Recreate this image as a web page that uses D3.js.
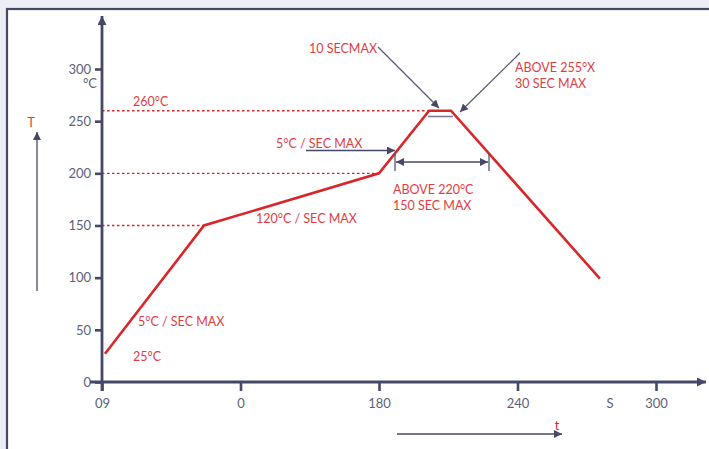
<!DOCTYPE html>
<html><head><meta charset="utf-8">
<script src="https://cdn.jsdelivr.net/npm/d3@7"></script>
<style>
html,body{margin:0;padding:0;background:#eceef3;}
svg{display:block;}
</style></head>
<body>
<svg id="chart" width="709" height="449"></svg>
<script>
// ---- data ----
const xTickValues = [60, 120, 180, 240, 300];
const xTickLabels = ["09", "0", "180", "240", "300"];
const yTickValues = [0, 50, 100, 150, 200, 250, 300];
const profileTime = [61.3, 104.2, 180, 201.7, 211.2, 275.7];
const profileTemp = [27, 150, 200, 260, 260, 99];
const refTemps = [150, 200, 260];
const refEndTimes = [104.2, 180, 201.7];

const NAVY = "#454866", LABEL = "#5c5f7a", RED = "#d9262b", TXT = "#df3d43";
const FONT = "Lato, 'Open Sans', sans-serif";

const svg = d3.select("#chart");
// frame
svg.append("rect").attr("x", 7).attr("y", 9).attr("width", 720).attr("height", 460)
  .attr("fill", "#ffffff").attr("stroke", NAVY).attr("stroke-width", 2.2);

const x = d3.scaleLinear().domain([60, 300]).range([102, 656]);
const y = d3.scaleLinear().domain([0, 300]).range([382, 69]);

const defs = svg.append("defs");
function marker(id, color, w, h) {
  defs.append("marker").attr("id", id).attr("viewBox", "0 0 10 10")
    .attr("refX", 10).attr("refY", 5).attr("markerUnits", "userSpaceOnUse")
    .attr("markerWidth", w).attr("markerHeight", h).attr("orient", "auto-start-reverse")
    .append("path").attr("d", "M0,0 L10,5 L0,10 Z").attr("fill", color);
}
marker("big", NAVY, 20, 9);
marker("small", NAVY, 11, 8);

// reference dashed lines
svg.append("g").selectAll("line").data(refTemps).join("line")
  .attr("x1", x(60)).attr("x2", (d, i) => x(refEndTimes[i]))
  .attr("y1", d => y(d)).attr("y2", d => y(d))
  .attr("stroke", RED).attr("stroke-width", 1.3).attr("stroke-dasharray", "2.5,2.5");

// axes
const yAxis = d3.axisLeft(y).tickValues(yTickValues).tickSize(7).tickPadding(4);
const gy = svg.append("g").attr("transform", `translate(${x(60)},0)`).call(yAxis);
gy.select(".domain").remove();
gy.selectAll(".tick line").attr("stroke", NAVY).attr("stroke-width", 2.6);
gy.selectAll(".tick text").attr("fill", LABEL).style("font", `13px ${FONT}`);

const xAxis = d3.axisBottom(x).tickValues(xTickValues).tickFormat((d, i) => xTickLabels[i]).tickSize(9).tickPadding(8);
const gx = svg.append("g").attr("transform", `translate(0,${y(0)})`).call(xAxis);
gx.select(".domain").remove();
gx.selectAll(".tick line").attr("stroke", NAVY).attr("stroke-width", 2.6);
gx.selectAll(".tick text").attr("fill", LABEL).style("font", `13px ${FONT}`);

// axis lines with arrows
svg.append("line").attr("x1", x(60)).attr("x2", x(60)).attr("y1", y(0) + 9).attr("y2", 16)
  .attr("stroke", NAVY).attr("stroke-width", 2.8).attr("marker-end", "url(#big)");
svg.append("line").attr("x1", 90).attr("x2", 706).attr("y1", y(0)).attr("y2", y(0))
  .attr("stroke", NAVY).attr("stroke-width", 2.8).attr("marker-end", "url(#big)");

// profile line
const line = d3.line().x(d => x(d[0])).y(d => y(d[1]));
svg.append("path").datum(profileTime.map((t, i) => [t, profileTemp[i]]))
  .attr("d", line).attr("fill", "none").attr("stroke", RED).attr("stroke-width", 2.6)
  .attr("stroke-linejoin", "miter");

// grey line under peak
svg.append("line").attr("x1", 428).attr("x2", 453).attr("y1", 116.5).attr("y2", 116.5)
  .attr("stroke", "#7a7d95").attr("stroke-width", 1.6);

function text(t, px, py, color, size, anchor) {
  svg.append("text").attr("x", px).attr("y", py).attr("fill", color)
    .attr("text-anchor", anchor || "start").style("font", `${size}px ${FONT}`).text(t);
}
// unit
text("°C", 90, 88, LABEL, 13, "middle");
text("S", 610, 408, LABEL, 13, "middle");

// T arrow
text("T", 31, 127, TXT, 13, "middle");
svg.append("line").attr("x1", 37).attr("x2", 37).attr("y1", 291).attr("y2", 132)
  .attr("stroke", NAVY).attr("stroke-width", 1.3).attr("marker-end", "url(#small)");
// t arrow
text("t", 557, 430, "#e02020", 12.5, "middle");
svg.append("line").attr("x1", 397).attr("x2", 562).attr("y1", 434).attr("y2", 434)
  .attr("stroke", NAVY).attr("stroke-width", 1.3).attr("marker-end", "url(#small)");

// annotations
text("260°C", 133, 106, TXT, 12.5);
text("10 SECMAX", 309, 53, TXT, 12.5);
svg.append("line").attr("x1", 378).attr("y1", 47).attr("x2", 439).attr("y2", 108)
  .attr("stroke", "#5a5d7a").attr("stroke-width", 1.2).attr("marker-end", "url(#small)");
text("ABOVE 255°X", 515, 72, TXT, 12.5);
text("30 SEC MAX", 515, 88, TXT, 12.5);
svg.append("line").attr("x1", 520).attr("y1", 53).attr("x2", 460).attr("y2", 112)
  .attr("stroke", "#5a5d7a").attr("stroke-width", 1.2).attr("marker-end", "url(#small)");
text("5°C / SEC MAX", 276, 148, TXT, 12.5);
svg.append("line").attr("x1", 306).attr("y1", 150.5).attr("x2", 395).attr("y2", 150.5)
  .attr("stroke", NAVY).attr("stroke-width", 1.3).attr("marker-end", "url(#small)");
// double arrow
svg.append("line").attr("x1", 396).attr("y1", 162).attr("x2", 488).attr("y2", 162)
  .attr("stroke", NAVY).attr("stroke-width", 1.3)
  .attr("marker-start", "url(#small)").attr("marker-end", "url(#small)");
[395, 489].forEach(px => svg.append("line").attr("x1", px).attr("x2", px).attr("y1", 154).attr("y2", 171)
  .attr("stroke", NAVY).attr("stroke-width", 1.2));
text("ABOVE 220°C", 393, 194, TXT, 12.5);
text("150 SEC MAX", 393, 210, TXT, 12.5);
text("120°C / SEC MAX", 256, 223, TXT, 12.5);
text("5°C / SEC MAX", 138, 326, TXT, 12.5);
text("25°C", 133, 361, TXT, 12.5);
</script>
</body></html>
